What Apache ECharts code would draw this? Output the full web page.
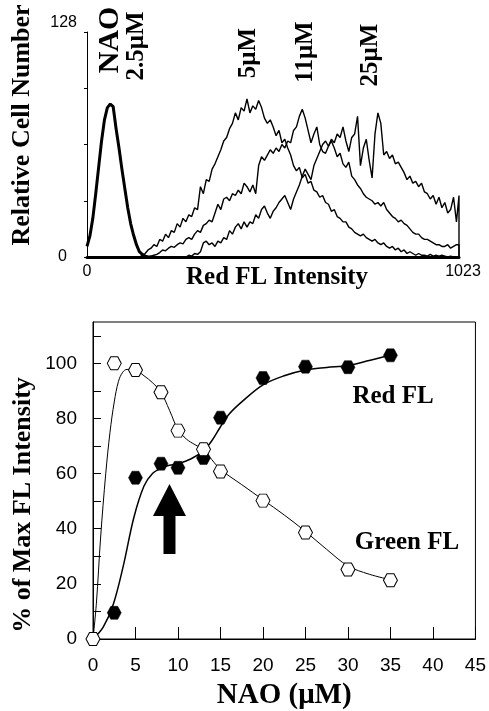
<!DOCTYPE html>
<html>
<head>
<meta charset="utf-8">
<script src="https://cdn.jsdelivr.net/npm/echarts@6/dist/echarts.min.js"></script>
<style>
html,body{margin:0;padding:0;background:#fff;}
#chart{width:489px;height:711px;}
</style>
</head>
<body>
<div id="chart"></div>
<script>
// ---------- Top panel: flow cytometry histograms (channel bins of 8, last bin = 1023) ----------
const histTickLabelsX = ['0', '1023'];
const histTickLabelsY = ['0', '128'];
const concLabels = ['2.5\u03bcM', '5\u03bcM', '11\u03bcM', '25\u03bcM'];

const countsNAO25 = [6,12,22,36,51,66,78,85,87,85.5,73,62,50,39,28,19,12.5,7,3,1.5,0.5,0,0,0];

const counts5 = [
0,0,0,0,0,0,0,0,0,0, 0,0,0,0,0,0,0,0,0,
1,2,4,5,7,6,10,9,13,11, 15,14,19,17,22,20,24,23,28,27,
40,36,44,43,50,53,57,61,66,68, 73,76,82,78,85,83,90,82,86,84,
89,85,79,76,78,74,69,72,65,67, 62,58,52,49,51,45,47,42,43,38,
37,34,35,31,30,26,27,23,22,20, 20,17,16,14,13,12,13,11,10,9,
10,8,7,8,6,5,6,4,5,3, 4,2,3,2,1,2,1,1,0.5,1.5,
0.5,1,0.5,1,0.5,0,0.5,0,0,0
];

const counts11 = [
0,0,0,0,0,0,0,0,0,0, 0,0,0,0,0,0,0,0,0,0, 0,0,
0.5,1,1.5,2.5,4,3.5,5,6,5.5,7, 8,7.5,10,11,10,13,15,14,18,19,
21,20,25,30,27,33,34,32,36,35, 38,36,42,40,37,41,36,52,57,55,
58,61,59,62,60,64,62,66,65,72, 74,80,84,79,72,65,70,74,64,60,
59,63,66,62,57,59,53,51,54,46, 44,41,39,36,34,33,32,30,31,29,
31,27,25,23,22,20,21,19,18,16, 14,13,13,11,10,10,9,8,7,7,
6,6,7,5,6,7,7
];

const counts25 = [
0,0,0,0,0,0,0,0,0,0, 0,0,0,0,0,0,0,0,0,0, 0,0,0,0,0,0,0,0,0,0, 0,0,0,0,0,
1,0.5,2,1.5,3, 8,9,7,8,6,9,8,11,10,15,
13,17,19,16,20,17,20,19,24,22, 27,29,25,22,26,28,31,33,35,31,
27,33,37,41,46,50,47,44,52,56, 60,64,66,63,67,65,70,68,74,66,
60,68,70,80,52,62,67,55,45,70, 82,76,58,60,56,58,53,54,51,48,
44,46,42,43,40,42,37,36,33,35, 30,34,28,31,25,27,34,20,35
];

// ---------- Bottom panel: % of max FL intensity vs NAO concentration ----------
const naoTickLabels = ['0','5','10','15','20','25','30','35','40','45'];
const pctTickLabels = ['0','20','40','60','80','100'];

const greenX = [0, 2.5, 5, 8, 10, 13, 15, 20, 25, 30, 35];
const greenY = [0, 100, 97.6, 89.5, 75.6, 68.8, 60.8, 50.2, 38.6, 25.2, 21.3];
const redX = [2.5, 5, 8, 10, 13, 15, 20, 25, 30, 35];
const redY = [9.5, 58.5, 63.6, 62.1, 65.7, 80.3, 94.7, 98.8, 98.6, 102.9];

const greenCurveX = [0, 0.4, 0.9, 1.5, 2, 2.5, 3, 3.5, 4, 5, 6, 7, 8, 9, 10, 11, 12, 13, 14, 15, 17.5, 20, 22.5, 25, 27.5, 30, 32.5, 35];
const greenCurveY = [0, 13, 37, 60, 75, 86, 93.5, 96.8, 97.8, 97.5, 95.5, 93, 89.5, 83, 76, 72.5, 70.5, 68.7, 65, 61.5, 56, 50.5, 45, 39, 32.5, 26.5, 23.5, 21.5];
const redCurveX = [0, 1.2, 2.4, 3.6, 4.8, 6, 7, 8, 9, 10, 11.5, 13, 14, 15, 16, 17.5, 20, 22.5, 25, 27.5, 30, 32.5, 35];
const redCurveY = [0, 4.3, 12.7, 27, 44, 55.5, 60, 62, 63, 63.6, 65.3, 68.3, 72, 77, 81.5, 86, 92.2, 95.5, 97.6, 98.5, 99.2, 101, 103];

const arrowAt = [9, 43.5];

// ---------- build ----------
const channels = [];
for (let i = 0; i < 128; i++) channels.push(i * 8);
channels.push(1023);
function histPairs(counts) {
  const out = counts.map((v, i) => [channels[i], v]);
  if (counts.length === channels.length) out.push([1023, 0]);
  return out;
}
function zip(xs, ys) { return xs.map((x, i) => [x, ys[i]]); }

const SERIF = 'Liberation Serif';
const SANS = 'Liberation Sans';
const hexPath = 'path://M-1,0 L-0.5,-0.866 L0.5,-0.866 L1,0 L0.5,0.866 L-0.5,0.866 Z';
const arrowPath = 'path://M16.5,0 L33,32 L22.5,32 L22.5,70 L10.5,70 L10.5,32 L0,32 Z';

const chart = echarts.init(document.getElementById('chart'), null, {renderer: 'canvas'});

const histLine = {type: 'line', xAxisIndex: 0, yAxisIndex: 0, symbol: 'none', smooth: false,
  lineStyle: {color: '#000', width: 1.4}, silent: true, animation: false};

chart.setOption({
  backgroundColor: '#fff',
  animation: false,
  grid: [
    {left: 87, top: 32, width: 372, height: 225},
    {left: 93, top: 322, width: 383, height: 320, show: true, borderColor: '#000', borderWidth: 1, backgroundColor: 'transparent'}
  ],
  xAxis: [
    {gridIndex: 0, type: 'value', min: 0, max: 1023, interval: 1023,
      axisLine: {show: true, lineStyle: {color: '#000', width: 3}},
      axisTick: {show: false}, splitLine: {show: false},
      axisLabel: {show: true, color: '#000', fontFamily: SANS, fontSize: 16, margin: 7,
        formatter: v => (v === 0 ? histTickLabelsX[0] : (v === 1023 ? '{e|' + histTickLabelsX[1] + '}' : '')),
        rich: {e: {fontFamily: SANS, fontSize: 16, color: '#000', padding: [0, 0, 0, 8]}}},
      name: 'Red FL Intensity', nameLocation: 'middle', nameGap: 8, nameMoveOverlap: false,
      nameTextStyle: {fontFamily: SERIF, fontWeight: 'bold', fontSize: 25, color: '#000', padding: [0, 0, 0, 8]}
    },
    {gridIndex: 1, type: 'value', min: 0, max: 45, interval: 5,
      axisLine: {show: true, onZero: false, lineStyle: {color: '#000', width: 1}},
      axisTick: {show: true, inside: true, length: 12, lineStyle: {color: '#000', width: 1}},
      splitLine: {show: false},
      axisLabel: {color: '#000', fontFamily: SANS, fontSize: 19, margin: 17,
        formatter: v => naoTickLabels[Math.round(v / 5)]},
      name: 'NAO (\u03bcM)', nameLocation: 'middle', nameGap: 42, nameMoveOverlap: false,
      nameTextStyle: {fontFamily: SERIF, fontWeight: 'bold', fontSize: 29, color: '#000'}
    }
  ],
  yAxis: [
    {gridIndex: 0, type: 'value', min: 0, max: 128, interval: 32,
      axisLine: {show: true, lineStyle: {color: '#000', width: 1}},
      axisTick: {show: true, length: 3, lineStyle: {color: '#000'}},
      splitLine: {show: false},
      axisLabel: {color: '#000', fontFamily: SANS, fontSize: 16, margin: 10,
        formatter: v => (v === 0 ? '{z|' + histTickLabelsY[0] + '}' : (v === 128 ? '{t|' + histTickLabelsY[1] + '}' : '')),
        rich: {
          z: {fontFamily: SANS, fontSize: 16, color: '#000', padding: [0, 10, 0, 0]},
          t: {fontFamily: SANS, fontSize: 16, color: '#000', padding: [0, 0, 18, 0]}
        }}
    },
    {gridIndex: 1, type: 'value', min: 0, max: 115, interval: 10,
      axisLine: {show: true, onZero: false, lineStyle: {color: '#000', width: 1}},
      axisTick: {show: true, inside: true, length: 8, lineStyle: {color: '#000'}},
      splitLine: {show: false},
      axisLabel: {color: '#000', fontFamily: SANS, fontSize: 19, margin: 16,
        showMaxLabel: false,
        formatter: v => (v % 20 === 0 && v <= 100 ? pctTickLabels[v / 20] : '')}
    }
  ],
  graphic: [
    {type: 'text', x: 22, y: 125, rotation: Math.PI / 2,
      style: {text: 'Relative Cell Number', font: 'bold 26px "Liberation Serif"', fill: '#000', align: 'center', verticalAlign: 'middle'}},
    {type: 'text', x: 23, y: 505, rotation: Math.PI / 2,
      style: {text: '% of Max FL Intensity', font: 'bold 26px "Liberation Serif"', fill: '#000', align: 'center', verticalAlign: 'middle'}},
    {type: 'text', x: 110, y: 40, rotation: Math.PI / 2,
      style: {text: 'NAO', font: 'bold 30px "Liberation Serif"', fill: '#000', align: 'center', verticalAlign: 'middle'}},
    {type: 'text', x: 137, y: 46, rotation: Math.PI / 2,
      style: {text: concLabels[0], font: 'bold 25px "Liberation Serif"', fill: '#000', align: 'center', verticalAlign: 'middle'}},
    {type: 'text', x: 249, y: 53, rotation: Math.PI / 2,
      style: {text: concLabels[1], font: 'bold 25px "Liberation Serif"', fill: '#000', align: 'center', verticalAlign: 'middle'}},
    {type: 'text', x: 306, y: 52, rotation: Math.PI / 2,
      style: {text: concLabels[2], font: 'bold 25px "Liberation Serif"', fill: '#000', align: 'center', verticalAlign: 'middle'}},
    {type: 'text', x: 371, y: 55, rotation: Math.PI / 2,
      style: {text: concLabels[3], font: 'bold 25px "Liberation Serif"', fill: '#000', align: 'center', verticalAlign: 'middle'}},
    {type: 'text', x: 393, y: 397,
      style: {text: 'Red FL', font: 'bold 25px "Liberation Serif"', fill: '#000', align: 'center', verticalAlign: 'middle'}},
    {type: 'text', x: 407, y: 543,
      style: {text: 'Green FL', font: 'bold 25px "Liberation Serif"', fill: '#000', align: 'center', verticalAlign: 'middle'}}
  ],
  series: [
    Object.assign({}, histLine, {name: '5 \u03bcM', data: histPairs(counts5)}),
    Object.assign({}, histLine, {name: '11 \u03bcM', data: histPairs(counts11)}),
    Object.assign({}, histLine, {name: '25 \u03bcM', data: histPairs(counts25)}),
    Object.assign({}, histLine, {name: '2.5 \u03bcM', data: histPairs(countsNAO25), lineStyle: {color: '#000', width: 3}}),

    {name: 'Red FL fit', type: 'line', xAxisIndex: 1, yAxisIndex: 1, symbol: 'none', smooth: 0.35,
      lineStyle: {color: '#000', width: 1.5}, data: zip(redCurveX, redCurveY), z: 2},
    {name: 'Green FL fit', type: 'line', xAxisIndex: 1, yAxisIndex: 1, symbol: 'none', smooth: 0.35,
      lineStyle: {color: '#000', width: 1}, data: zip(greenCurveX, greenCurveY), z: 2},
    {name: 'Red FL', type: 'scatter', xAxisIndex: 1, yAxisIndex: 1, symbol: hexPath, symbolSize: [14, 13],
      itemStyle: {color: '#000', borderColor: '#000', borderWidth: 0.5, opacity: 1}, data: zip(redX, redY), z: 3},
    {name: 'Green FL', type: 'scatter', xAxisIndex: 1, yAxisIndex: 1, symbol: hexPath, symbolSize: [14, 13],
      itemStyle: {color: '#fff', borderColor: '#000', borderWidth: 1, opacity: 1}, data: zip(greenX, greenY), z: 4},
    {name: 'arrow', type: 'scatter', xAxisIndex: 1, yAxisIndex: 1, symbol: arrowPath, symbolSize: [33, 70],
      itemStyle: {color: '#000', opacity: 1}, data: [arrowAt], z: 3, silent: true}
  ]
});
</script>
</body>
</html>
